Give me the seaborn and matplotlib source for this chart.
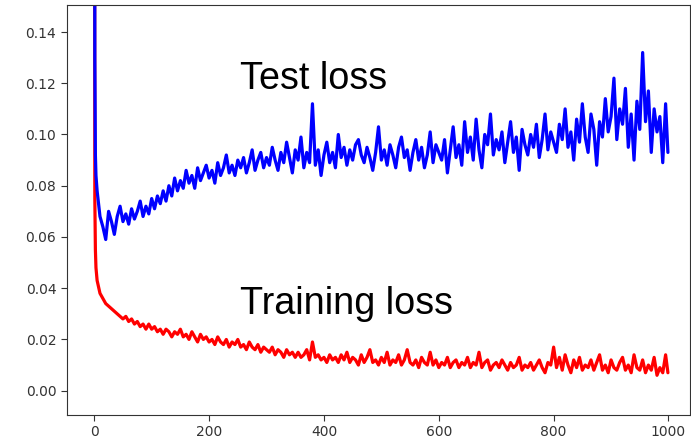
import matplotlib
matplotlib.use("Agg")
import matplotlib.pyplot as plt
import seaborn as sns
import pandas as pd

# epochs sampled from the curves (dense at the very start)
epochs = [0, 1, 2, 3] + list(range(5, 1000, 5)) + [999]

test_loss = [
    0.600, 0.130, 0.092, 0.084,
    0.078, 0.068, 0.064, 0.059, 0.070, 0.066, 0.061, 0.068, 0.072, 0.066,
    0.069, 0.065, 0.071, 0.067, 0.070, 0.074, 0.068, 0.072, 0.069, 0.075,
    0.071, 0.076, 0.073, 0.078, 0.074, 0.080, 0.076, 0.083, 0.078, 0.082,
    0.079, 0.086, 0.081, 0.084, 0.079, 0.087, 0.082, 0.085, 0.088, 0.083,
    0.086, 0.081, 0.089, 0.084, 0.087, 0.092, 0.085, 0.088, 0.084, 0.090,
    0.087, 0.091, 0.085, 0.089, 0.094, 0.086, 0.090, 0.093, 0.087, 0.091,
    0.088, 0.095, 0.090, 0.086, 0.093, 0.089, 0.097, 0.091, 0.085, 0.094,
    0.090, 0.099, 0.087, 0.093, 0.089, 0.112, 0.088, 0.094, 0.084, 0.092,
    0.097, 0.089, 0.093, 0.087, 0.100, 0.091, 0.095, 0.088, 0.094, 0.090,
    0.096, 0.098, 0.092, 0.089, 0.095, 0.091, 0.086, 0.093, 0.103, 0.090,
    0.094, 0.088, 0.096, 0.092, 0.087, 0.095, 0.099, 0.091, 0.094, 0.086,
    0.093, 0.098, 0.090, 0.095, 0.087, 0.092, 0.101, 0.089, 0.096, 0.093,
    0.090, 0.098, 0.085, 0.094, 0.103, 0.091, 0.096, 0.088, 0.105, 0.093,
    0.099, 0.090, 0.106, 0.094, 0.087, 0.100, 0.096, 0.108, 0.092, 0.098,
    0.094, 0.101, 0.089, 0.097, 0.105, 0.093, 0.099, 0.086, 0.102, 0.096,
    0.092, 0.100, 0.095, 0.104, 0.091, 0.098, 0.108, 0.094, 0.101, 0.097,
    0.093, 0.104, 0.098, 0.110, 0.095, 0.101, 0.090, 0.106, 0.097, 0.112,
    0.099, 0.093, 0.108, 0.102, 0.088, 0.105, 0.099, 0.114, 0.101, 0.107,
    0.122, 0.098, 0.110, 0.104, 0.118, 0.095, 0.108, 0.090, 0.113, 0.102,
    0.132, 0.105, 0.117, 0.093, 0.110, 0.101, 0.107, 0.089, 0.112, 0.093,
]

train_loss = [
    0.400, 0.075, 0.055, 0.048,
    0.043, 0.038, 0.036, 0.034, 0.033, 0.032, 0.031, 0.030, 0.029, 0.028,
    0.029, 0.027, 0.028, 0.026, 0.027, 0.025, 0.026, 0.024, 0.026, 0.024,
    0.025, 0.023, 0.024, 0.022, 0.024, 0.023, 0.021, 0.023, 0.022, 0.024,
    0.021, 0.022, 0.020, 0.023, 0.021, 0.019, 0.022, 0.020, 0.021, 0.019,
    0.020, 0.018, 0.021, 0.019, 0.018, 0.020, 0.017, 0.019, 0.018, 0.020,
    0.017, 0.018, 0.016, 0.019, 0.017, 0.016, 0.018, 0.015, 0.017, 0.016,
    0.015, 0.017, 0.014, 0.016, 0.015, 0.013, 0.016, 0.014, 0.015, 0.013,
    0.015, 0.013, 0.014, 0.016, 0.012, 0.019, 0.013, 0.014, 0.012, 0.013,
    0.011, 0.014, 0.012, 0.013, 0.011, 0.014, 0.012, 0.015, 0.011, 0.013,
    0.012, 0.010, 0.014, 0.011, 0.013, 0.016, 0.011, 0.012, 0.010, 0.013,
    0.011, 0.015, 0.010, 0.012, 0.011, 0.014, 0.010, 0.012, 0.016, 0.011,
    0.010, 0.012, 0.009, 0.013, 0.011, 0.010, 0.015, 0.010, 0.012, 0.009,
    0.011, 0.010, 0.013, 0.009, 0.011, 0.012, 0.009, 0.011, 0.010, 0.013,
    0.009, 0.011, 0.010, 0.015, 0.009, 0.011, 0.012, 0.008, 0.010, 0.011,
    0.009, 0.012, 0.010, 0.008, 0.011, 0.009, 0.010, 0.013, 0.008, 0.010,
    0.009, 0.011, 0.008, 0.010, 0.012, 0.009, 0.007, 0.011, 0.010, 0.017,
    0.009, 0.013, 0.008, 0.014, 0.010, 0.007, 0.012, 0.009, 0.013, 0.008,
    0.010, 0.009, 0.012, 0.008, 0.011, 0.014, 0.008, 0.010, 0.007, 0.012,
    0.009, 0.008, 0.011, 0.013, 0.008, 0.010, 0.007, 0.014, 0.009, 0.008,
    0.012, 0.007, 0.010, 0.008, 0.013, 0.006, 0.009, 0.007, 0.014, 0.007,
]

df = pd.DataFrame({"epoch": epochs, "train": train_loss, "test": test_loss})

sns.set_style("ticks")
plt.rcParams["font.family"] = ["DejaVu Sans"]

fig = plt.figure(figsize=(6.91, 4.46), dpi=100)
ax = fig.add_axes([0.0965, 0.0695, 0.9025, 0.919])

sns.lineplot(data=df, x="epoch", y="train", color="#ff0000", linewidth=2.3, ax=ax)
sns.lineplot(data=df, x="epoch", y="test", color="#0000ff", linewidth=2.3, ax=ax)

ax.set_xlim(-48, 1038)
ax.set_ylim(-0.0095, 0.1505)
ax.set_xticks([0, 200, 400, 600, 800, 1000])
ax.set_yticks([0.00, 0.02, 0.04, 0.06, 0.08, 0.10, 0.12, 0.14])
ax.set_yticklabels(["0.00", "0.02", "0.04", "0.06", "0.08", "0.10", "0.12", "0.14"])
ax.set_xlabel("")
ax.set_ylabel("")
ax.tick_params(labelsize=10, labelcolor="#333333", color="#333333", length=4, width=0.8)
for s in ax.spines.values():
    s.set_color("#333333")
    s.set_linewidth(0.8)

ax.text(254, 0.1215, "Test loss", fontsize=27.2, color="black",
        family=["Liberation Sans"], va="center")
ax.text(254, 0.034, "Training loss", fontsize=27.2, color="black",
        family=["Liberation Sans"], va="center")

fig.savefig("out.png", dpi=100)
